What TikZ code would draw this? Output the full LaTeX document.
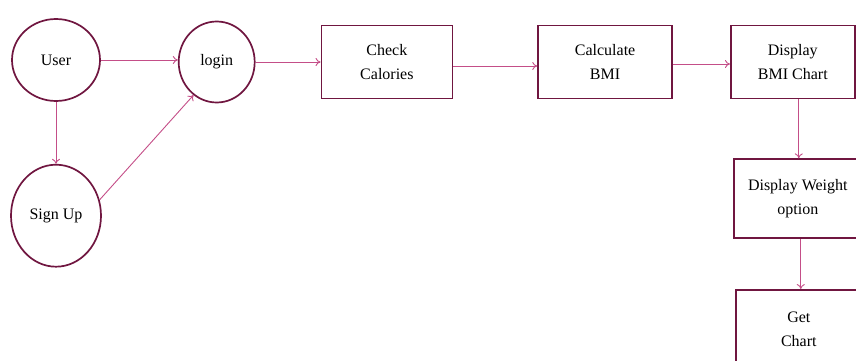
\documentclass[tikz,border=0pt]{standalone}
\usepackage{fontspec}
\setmainfont{Liberation Serif}
\usepackage{tikz}
\usetikzlibrary{arrows.meta,shapes.geometric,positioning}

\definecolor{edgemaroon}{RGB}{112,22,64}
\definecolor{flowpink}{RGB}{196,78,136}

\begin{document}
\begin{tikzpicture}[
  x=1pt, y=-1pt,
  actor/.style={ellipse, draw=edgemaroon, line width=1.7pt, fill=white,
                inner sep=0pt, text centered,
                font=\fontsize{16}{24}\selectfont},
  task/.style={rectangle, draw=edgemaroon, line width=1.7pt, fill=white,
               minimum width=131pt, minimum height=73pt, align=center,
               inner sep=2pt, font=\fontsize{16}{24}\selectfont},
  flow/.style={-{To[length=5pt,width=8pt]}, draw=flowpink, line width=0.9pt},
  node distance=62pt and 65pt
]
\useasboundingbox (0,0) rectangle (856,361);
\clip (0,0) rectangle (856,361);

%% Left: entry circles
\node[actor, minimum width=88pt, minimum height=82pt] (user) at (56,60) {User};
\node[actor, minimum width=90pt, minimum height=102pt, below=62pt of user] (signup) {Sign Up};
\node[actor, minimum width=76pt, minimum height=81pt, right=77pt of user, yshift=-2pt] (login) {login};

%% Top row: processing boxes
\node[task, right=65pt of login] (check) {Check\\Calories};
\node[task, minimum width=134pt, right=84pt of check] (calc) {Calculate\\BMI};
\node[task, minimum width=124pt, right=57pt of calc] (bmichart) {Display\\BMI Chart};

%% Right column
\node[task, minimum width=128pt, minimum height=79pt, below=59pt of bmichart, xshift=5pt] (weight)
  {Display Weight\\option};
\node[task, minimum width=126pt, minimum height=79pt, below=50pt of weight, xshift=1pt] (getchart)
  {Get\\Chart};

%% Connectors
\draw[flow] (user.east) -- (user.east -| login.west);
\draw[flow] (user) -- (signup);
\draw[flow] (signup.20) -- (login.235);
\draw[flow] (login) -- (check);
\draw[flow] (check.east) ++(0,4) coordinate (c1) (c1) -- (c1 -| calc.west);
\draw[flow] (calc.east) ++(0,2) coordinate (c2) (c2) -- (c2 -| bmichart.west);
\draw[flow] (bmichart.south) ++(6,0) coordinate (c3) (c3) -- (c3 |- weight.north);
\draw[flow] (weight.south) ++(3,0) coordinate (c4) (c4) -- (c4 |- getchart.north);

\end{tikzpicture}
\end{document}
